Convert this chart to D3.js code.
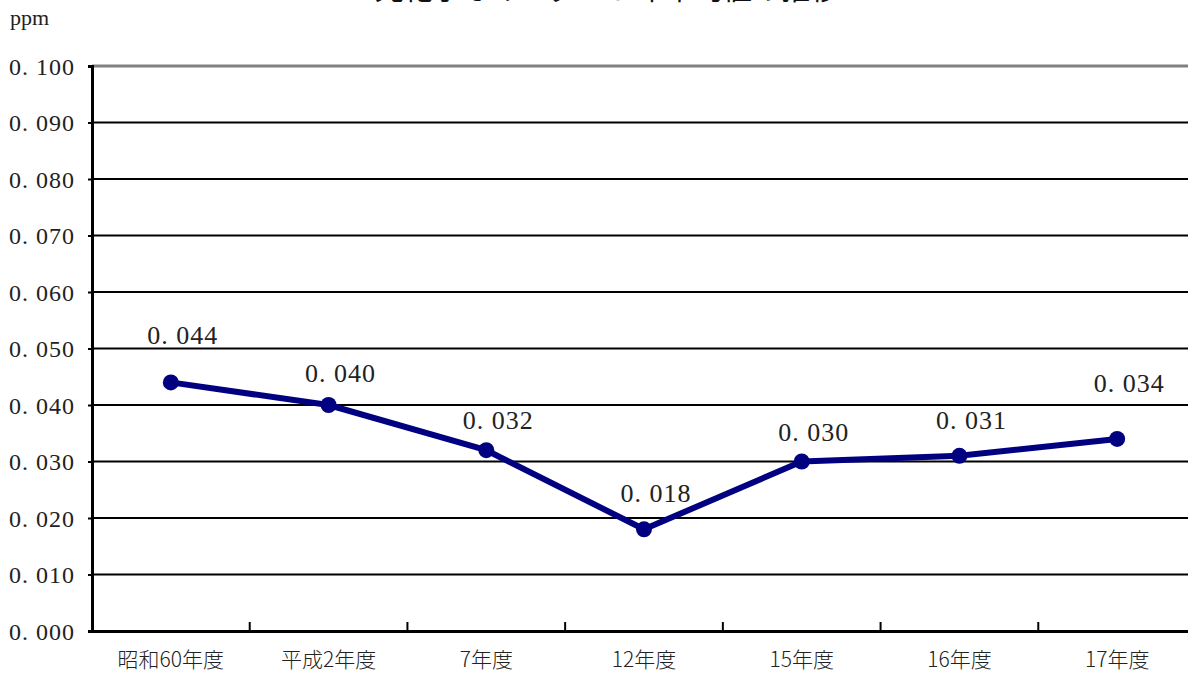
<!DOCTYPE html>
<html lang="ja">
<head>
<meta charset="UTF-8">
<title>光化学オキシダント年平均値の推移</title>
<script src="https://cdn.jsdelivr.net/npm/d3@7/dist/d3.min.js"></script>
<style>
  html, body { margin: 0; padding: 0; background: #fff; overflow: hidden; }
  svg { display: block; }
  .serif { font-family: "Liberation Serif", "DejaVu Serif", "Noto Sans CJK JP", serif; fill: #222; }
</style>
</head>
<body>
<svg id="chart"></svg>
<script>
// data
var years = ["昭和60年度", "平成2年度", "7年度", "12年度", "15年度", "16年度", "17年度"];
var values = [0.044, 0.040, 0.032, 0.018, 0.030, 0.031, 0.034];
var yTicks = [0, 0.01, 0.02, 0.03, 0.04, 0.05, 0.06, 0.07, 0.08, 0.09, 0.1];
// label lift above each point (layout only)
var labelLift = [48, 32, 30, 36, 30, 36, 56];

var W = 1188, H = 674;
var plotLeft = 92, plotRight = 1196, plotTop = 66, plotBottom = 631;

var svg = d3.select("#chart").attr("width", W).attr("height", H);

var x = d3.scaleBand().domain(years).range([plotLeft, plotRight]);
var y = d3.scaleLinear().domain([0, 0.1]).range([plotBottom, plotTop]);

function fmt(v) { return "0. " + d3.format(".3f")(v).slice(2); }

// title (cut off at top edge)
svg.append("text")
    .attr("x", 607).attr("y", 0)
    .attr("text-anchor", "middle")
    .style("font-family", "'Noto Sans CJK JP', sans-serif")
    .style("font-size", "29px")
    .style("fill", "#111")
    .text("光化学オキシダント年平均値の推移");

svg.append("text")
    .attr("class", "serif")
    .attr("x", 10).attr("y", 25)
    .style("font-size", "22px")
    .text("ppm");

// grid lines
svg.append("g").selectAll("line")
    .data(yTicks.slice(1))
    .enter().append("line")
    .attr("x1", plotLeft).attr("x2", W)
    .attr("y1", d => y(d)).attr("y2", d => y(d))
    .attr("stroke", d => d === 0.1 ? "#808080" : "#000")
    .attr("stroke-width", d => d === 0.1 ? 3 : 2);

// y axis
var yAxis = svg.append("g")
    .attr("transform", "translate(" + plotLeft + ",0)")
    .call(d3.axisLeft(y).tickValues(yTicks).tickSize(4).tickFormat(fmt));
yAxis.select(".domain").attr("stroke", "#000").attr("stroke-width", 3);
yAxis.selectAll(".tick line").attr("stroke", "#000").attr("stroke-width", 2);
yAxis.selectAll(".tick text")
    .attr("class", "serif")
    .attr("x", -17)
    .attr("dy", "0.35em")
    .style("font-size", "24px")
    .style("letter-spacing", "1px");

// x axis
var xAxis = svg.append("g")
    .attr("transform", "translate(0," + plotBottom + ")")
    .call(d3.axisBottom(x).tickSize(0).tickPadding(21));
xAxis.select(".domain").attr("stroke", "#000").attr("stroke-width", 3);
xAxis.selectAll(".tick text")
    .style("font-family", "'Noto Sans CJK JP', sans-serif")
    .style("font-size", "21px")
    .style("font-weight", "300")
    .style("fill", "#222");

// band boundary ticks pointing up
svg.append("g").selectAll("line")
    .data(years.slice(1))
    .enter().append("line")
    .attr("x1", d => x(d)).attr("x2", d => x(d))
    .attr("y1", plotBottom).attr("y2", plotBottom - 9)
    .attr("stroke", "#000").attr("stroke-width", 2);

// series line
var line = d3.line()
    .x((d, i) => x(years[i]) + x.bandwidth() / 2)
    .y(d => y(d));

svg.append("path")
    .datum(values)
    .attr("d", line)
    .attr("fill", "none")
    .attr("stroke", "#000080")
    .attr("stroke-width", 6)
    .attr("stroke-linejoin", "round");

svg.append("g").selectAll("circle")
    .data(values)
    .enter().append("circle")
    .attr("cx", (d, i) => x(years[i]) + x.bandwidth() / 2)
    .attr("cy", d => y(d))
    .attr("r", 8)
    .attr("fill", "#000080");

// data labels
svg.append("g").selectAll("text")
    .data(values)
    .enter().append("text")
    .attr("class", "serif")
    .attr("x", (d, i) => x(years[i]) + x.bandwidth() / 2 + 12)
    .attr("y", (d, i) => y(d) - labelLift[i])
    .attr("dy", "0.35em")
    .attr("text-anchor", "middle")
    .style("font-size", "26px")
    .style("letter-spacing", "1px")
    .text(fmt);
</script>
</body>
</html>
